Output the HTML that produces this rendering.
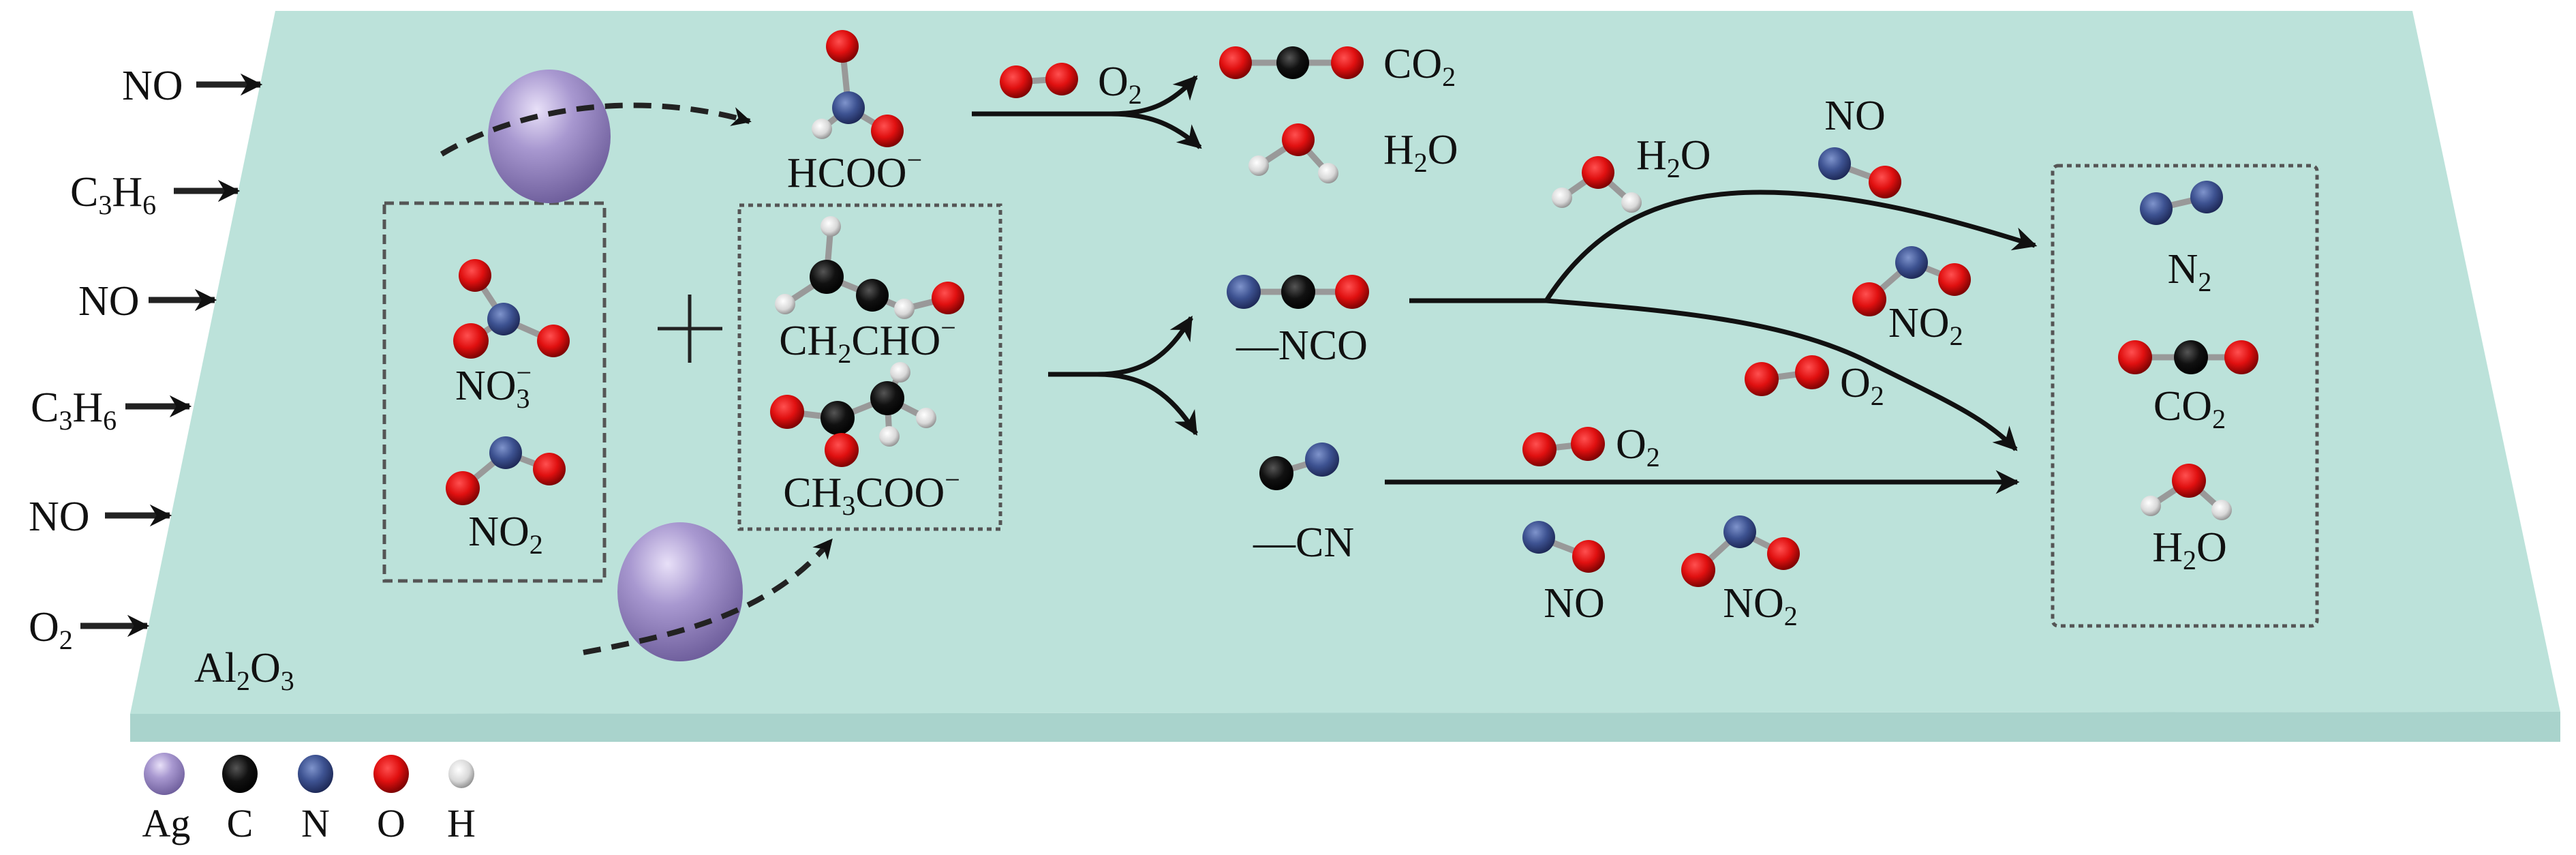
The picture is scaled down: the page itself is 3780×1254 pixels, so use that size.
<!DOCTYPE html>
<html><head><meta charset="utf-8"><style>
html,body{margin:0;padding:0;background:#fff;}
svg{display:block;}
text{font-family:"Liberation Serif",serif;fill:#111;}
</style></head><body>
<svg width="3780" height="1254" viewBox="0 0 3780 1254" xmlns="http://www.w3.org/2000/svg">
<defs>
<radialGradient id="gO" cx="0.4" cy="0.35" r="0.7"><stop offset="0" stop-color="#ff5050"/><stop offset="0.5" stop-color="#e01010"/><stop offset="1" stop-color="#700000"/></radialGradient>
<radialGradient id="gN" cx="0.4" cy="0.35" r="0.7"><stop offset="0" stop-color="#7f94cc"/><stop offset="0.5" stop-color="#3d5291"/><stop offset="1" stop-color="#1a2450"/></radialGradient>
<radialGradient id="gC" cx="0.4" cy="0.35" r="0.7"><stop offset="0" stop-color="#555"/><stop offset="0.5" stop-color="#111"/><stop offset="1" stop-color="#000"/></radialGradient>
<radialGradient id="gH" cx="0.4" cy="0.35" r="0.7"><stop offset="0" stop-color="#fff"/><stop offset="0.6" stop-color="#d8d8d8"/><stop offset="1" stop-color="#888"/></radialGradient>
<radialGradient id="gA" cx="0.4" cy="0.3" r="0.75"><stop offset="0" stop-color="#e8e0f8"/><stop offset="0.4" stop-color="#a898d0"/><stop offset="1" stop-color="#6a5a98"/></radialGradient>
<marker id="ah" viewBox="0 0 10 10" refX="9" refY="5" markerWidth="5" markerHeight="5" markerUnits="strokeWidth" orient="auto"><path d="M0,0 L10,5 L0,10 L3,5 z" fill="#111"/></marker>
<marker id="ah2" viewBox="0 0 10 10" refX="9" refY="5" markerWidth="3.6" markerHeight="3.6" markerUnits="strokeWidth" orient="auto"><path d="M0,0 L10,5 L0,10 L3,5 z" fill="#111"/></marker>
</defs>

<polygon points="191,1047 3757,1044 3757,1088 191,1088" fill="#a9d3cc"/>
<polygon points="404,16 3540,16 3757,1044 191,1047" fill="#bce2da"/>

<g font-size="62">
<text x="179" y="146">NO</text>
<text x="103" y="302">C<tspan font-size="40" dy="12">3</tspan><tspan dy="-12">H</tspan><tspan font-size="40" dy="12">6</tspan></text>
<text x="115" y="462">NO</text>
<text x="45" y="618">C<tspan font-size="40" dy="12">3</tspan><tspan dy="-12">H</tspan><tspan font-size="40" dy="12">6</tspan></text>
<text x="42" y="778">NO</text>
<text x="42" y="940">O<tspan font-size="40" dy="12">2</tspan></text>
<text x="285" y="1000">Al<tspan font-size="40" dy="12">2</tspan><tspan dy="-12">O</tspan><tspan font-size="40" dy="12">3</tspan></text>
</g>
<g stroke="#222" stroke-width="9" marker-end="url(#ah2)">
<line x1="288" y1="124" x2="382" y2="124"/>
<line x1="255" y1="280" x2="349" y2="280"/>
<line x1="218" y1="440" x2="315" y2="440"/>
<line x1="184" y1="596" x2="278" y2="596"/>
<line x1="154" y1="756" x2="249" y2="756"/>
<line x1="118" y1="918" x2="216" y2="918"/>
</g>

<rect x="564" y="298" width="323" height="554" fill="none" stroke="#555" stroke-width="5" stroke-dasharray="14,8"/>
<rect x="1085" y="301" width="383" height="475" fill="none" stroke="#555" stroke-width="5" stroke-dasharray="7,6"/>
<rect x="3012" y="243" width="388" height="675" rx="8" fill="none" stroke="#555" stroke-width="5" stroke-dasharray="7,6"/>

<g stroke="#222" stroke-width="5"><line x1="965" y1="482" x2="1060" y2="482"/><line x1="1012" y1="432" x2="1012" y2="532"/></g>

<ellipse cx="806" cy="200" rx="90" ry="98" fill="url(#gA)"/>
<path d="M648,226 C760,160 930,130 1100,178" fill="none" stroke="#222" stroke-width="8" stroke-dasharray="26,16" marker-end="url(#ah2)"/>
<ellipse cx="998" cy="868" rx="92" ry="102" fill="url(#gA)"/>
<path d="M856,957 C1000,930 1130,900 1220,792" fill="none" stroke="#222" stroke-width="8" stroke-dasharray="26,16" marker-end="url(#ah2)"/>

<g stroke="#999" stroke-width="9" stroke-linecap="round">
<line x1="1236" y1="68" x2="1245" y2="158"/><line x1="1245" y1="158" x2="1302" y2="192"/><line x1="1245" y1="158" x2="1206" y2="189"/>
<line x1="1491" y1="120" x2="1558" y2="116"/>
<line x1="1813" y1="92" x2="1977" y2="92"/>
<line x1="1905" y1="205" x2="1847" y2="243"/><line x1="1905" y1="205" x2="1949" y2="254"/>
<line x1="697" y1="404" x2="739" y2="468"/><line x1="739" y1="468" x2="691" y2="500"/><line x1="739" y1="468" x2="812" y2="500"/>
<line x1="742" y1="664" x2="679" y2="716"/><line x1="742" y1="664" x2="806" y2="688"/>
<line x1="1219" y1="332" x2="1213" y2="406"/><line x1="1213" y1="406" x2="1152" y2="446"/><line x1="1213" y1="406" x2="1280" y2="433"/><line x1="1280" y1="433" x2="1327" y2="453"/><line x1="1327" y1="453" x2="1391" y2="437"/>
<line x1="1155" y1="604" x2="1229" y2="613"/><line x1="1229" y1="613" x2="1302" y2="584"/><line x1="1229" y1="613" x2="1235" y2="660"/><line x1="1302" y1="584" x2="1321" y2="546"/><line x1="1302" y1="584" x2="1359" y2="613"/><line x1="1302" y1="584" x2="1305" y2="640"/>
<line x1="1825" y1="428" x2="1984" y2="428"/>
<line x1="1873" y1="694" x2="1940" y2="674"/>
<line x1="2345" y1="253" x2="2292" y2="290"/><line x1="2345" y1="253" x2="2394" y2="297"/>
<line x1="2692" y1="240" x2="2766" y2="267"/>
<line x1="2805" y1="385" x2="2743" y2="439"/><line x1="2805" y1="385" x2="2868" y2="410"/>
<line x1="2585" y1="556" x2="2659" y2="546"/>
<line x1="2259" y1="659" x2="2330" y2="651"/>
<line x1="2258" y1="788" x2="2331" y2="816"/>
<line x1="2553" y1="780" x2="2492" y2="836"/><line x1="2553" y1="780" x2="2617" y2="812"/>
<line x1="3164" y1="306" x2="3238" y2="289"/><line x1="3133" y1="524" x2="3289" y2="524"/><line x1="3212" y1="705" x2="3156" y2="742"/><line x1="3212" y1="705" x2="3260" y2="748"/>
</g>

<g>
<circle cx="1236" cy="68" r="24" fill="url(#gO)"/><circle cx="1245" cy="158" r="24" fill="url(#gN)"/><circle cx="1302" cy="192" r="24" fill="url(#gO)"/><circle cx="1206" cy="189" r="15" fill="url(#gH)"/>
<circle cx="1491" cy="120" r="24" fill="url(#gO)"/><circle cx="1558" cy="116" r="24" fill="url(#gO)"/>
<circle cx="1813" cy="92" r="24" fill="url(#gO)"/><circle cx="1897" cy="92" r="24" fill="url(#gC)"/><circle cx="1977" cy="92" r="24" fill="url(#gO)"/>
<circle cx="1905" cy="205" r="24" fill="url(#gO)"/><circle cx="1847" cy="243" r="15" fill="url(#gH)"/><circle cx="1949" cy="254" r="15" fill="url(#gH)"/>
<circle cx="697" cy="404" r="24" fill="url(#gO)"/><circle cx="739" cy="468" r="24" fill="url(#gN)"/><circle cx="691" cy="500" r="26" fill="url(#gO)"/><circle cx="812" cy="500" r="24" fill="url(#gO)"/>
<circle cx="742" cy="664" r="24" fill="url(#gN)"/><circle cx="679" cy="716" r="25" fill="url(#gO)"/><circle cx="806" cy="688" r="24" fill="url(#gO)"/>
<circle cx="1219" cy="332" r="15" fill="url(#gH)"/><circle cx="1213" cy="406" r="25" fill="url(#gC)"/><circle cx="1152" cy="446" r="15" fill="url(#gH)"/><circle cx="1280" cy="433" r="24" fill="url(#gC)"/><circle cx="1327" cy="453" r="15" fill="url(#gH)"/><circle cx="1391" cy="437" r="24" fill="url(#gO)"/>
<circle cx="1321" cy="546" r="15" fill="url(#gH)"/><circle cx="1155" cy="604" r="25" fill="url(#gO)"/><circle cx="1229" cy="613" r="25" fill="url(#gC)"/><circle cx="1302" cy="584" r="25" fill="url(#gC)"/><circle cx="1359" cy="613" r="15" fill="url(#gH)"/><circle cx="1305" cy="640" r="15" fill="url(#gH)"/><circle cx="1235" cy="660" r="25" fill="url(#gO)"/>
<circle cx="1825" cy="428" r="25" fill="url(#gN)"/><circle cx="1905" cy="428" r="25" fill="url(#gC)"/><circle cx="1984" cy="428" r="25" fill="url(#gO)"/>
<circle cx="1873" cy="694" r="25" fill="url(#gC)"/><circle cx="1940" cy="674" r="25" fill="url(#gN)"/>
<circle cx="2345" cy="253" r="24" fill="url(#gO)"/><circle cx="2292" cy="290" r="15" fill="url(#gH)"/><circle cx="2394" cy="297" r="15" fill="url(#gH)"/>
<circle cx="2692" cy="240" r="24" fill="url(#gN)"/><circle cx="2766" cy="267" r="24" fill="url(#gO)"/>
<circle cx="2805" cy="385" r="24" fill="url(#gN)"/><circle cx="2743" cy="439" r="25" fill="url(#gO)"/><circle cx="2868" cy="410" r="24" fill="url(#gO)"/>
<circle cx="2585" cy="556" r="25" fill="url(#gO)"/><circle cx="2659" cy="546" r="25" fill="url(#gO)"/>
<circle cx="2259" cy="659" r="25" fill="url(#gO)"/><circle cx="2330" cy="651" r="25" fill="url(#gO)"/>
<circle cx="2258" cy="788" r="24" fill="url(#gN)"/><circle cx="2331" cy="816" r="24" fill="url(#gO)"/>
<circle cx="2553" cy="780" r="24" fill="url(#gN)"/><circle cx="2492" cy="836" r="25" fill="url(#gO)"/><circle cx="2617" cy="812" r="24" fill="url(#gO)"/>
<circle cx="3164" cy="306" r="24" fill="url(#gN)"/><circle cx="3238" cy="289" r="24" fill="url(#gN)"/>
<circle cx="3133" cy="524" r="25" fill="url(#gO)"/><circle cx="3215" cy="524" r="25" fill="url(#gC)"/><circle cx="3289" cy="524" r="25" fill="url(#gO)"/>
<circle cx="3212" cy="705" r="25" fill="url(#gO)"/><circle cx="3156" cy="742" r="15" fill="url(#gH)"/><circle cx="3260" cy="748" r="15" fill="url(#gH)"/>
</g>

<g fill="none" stroke="#111" stroke-width="7">
<path d="M1426,167 L1650,167"/>
<path d="M1630,167 C1690,167 1720,150 1755,113" marker-end="url(#ah)"/>
<path d="M1630,167 C1690,167 1725,185 1761,216" marker-end="url(#ah)"/>
<path d="M1538,549 L1624,549"/>
<path d="M1610,549 C1680,549 1715,520 1748,466" marker-end="url(#ah)"/>
<path d="M1610,549 C1680,549 1720,580 1755,636" marker-end="url(#ah)"/>
<path d="M2068,441 L2269,441"/>
<path d="M2269,441 C2340,330 2440,282 2583,282 C2720,282 2860,320 2986,360" marker-end="url(#ah)"/>
<path d="M2269,441 C2450,455 2620,470 2740,530 C2850,585 2910,610 2958,659" marker-end="url(#ah)"/>
<path d="M2032,707 L2960,707" marker-end="url(#ah)"/>
</g>

<g font-size="62" text-anchor="middle">
<text x="1254" y="274">HCOO<tspan font-size="40" dy="-26">−</tspan></text>
<text x="724" y="586">NO<tspan font-size="40" dy="12">3</tspan><tspan font-size="40" dx="-20" dy="-38">−</tspan></text>
<text x="742" y="800">NO<tspan font-size="40" dy="12">2</tspan></text>
<text x="1273" y="520">CH<tspan font-size="40" dy="12">2</tspan><tspan dy="-12">CHO</tspan><tspan font-size="40" dy="-26">−</tspan></text>
<text x="1279" y="743">CH<tspan font-size="40" dy="12">3</tspan><tspan dy="-12">COO</tspan><tspan font-size="40" dy="-26">−</tspan></text>
<text x="3213" y="415">N<tspan font-size="40" dy="12">2</tspan></text>
<text x="3213" y="616">CO<tspan font-size="40" dy="12">2</tspan></text>
<text x="3213" y="823">H<tspan font-size="40" dy="12">2</tspan><tspan dy="-12">O</tspan></text>
<text x="2722" y="190">NO</text>
<text x="2310" y="905">NO</text>
<text x="2583" y="905">NO<tspan font-size="40" dy="12">2</tspan></text>
</g>
<g font-size="62">
<text x="1611" y="140">O<tspan font-size="40" dy="12">2</tspan></text>
<text x="2030" y="114">CO<tspan font-size="40" dy="12">2</tspan></text>
<text x="2030" y="240">H<tspan font-size="40" dy="12">2</tspan><tspan dy="-12">O</tspan></text>
<text x="1814" y="527">—NCO</text>
<text x="1839" y="816">—CN</text>
<text x="2401" y="248">H<tspan font-size="40" dy="12">2</tspan><tspan dy="-12">O</tspan></text>
<text x="2771" y="494">NO<tspan font-size="40" dy="12">2</tspan></text>
<text x="2700" y="582">O<tspan font-size="40" dy="12">2</tspan></text>
<text x="2371" y="672">O<tspan font-size="40" dy="12">2</tspan></text>
</g>

<ellipse cx="241" cy="1135" rx="30" ry="31" fill="url(#gA)"/>
<ellipse cx="352" cy="1135" rx="26" ry="28" fill="url(#gC)"/>
<ellipse cx="463" cy="1135" rx="26" ry="28" fill="url(#gN)"/>
<ellipse cx="574" cy="1135" rx="26" ry="28" fill="url(#gO)"/>
<ellipse cx="677" cy="1135" rx="19" ry="21" fill="url(#gH)"/>
<g font-size="58" text-anchor="middle">
<text x="244" y="1227">Ag</text><text x="352" y="1227">C</text><text x="463" y="1227">N</text><text x="574" y="1227">O</text><text x="677" y="1227">H</text>
</g>
</svg>
</body></html>
